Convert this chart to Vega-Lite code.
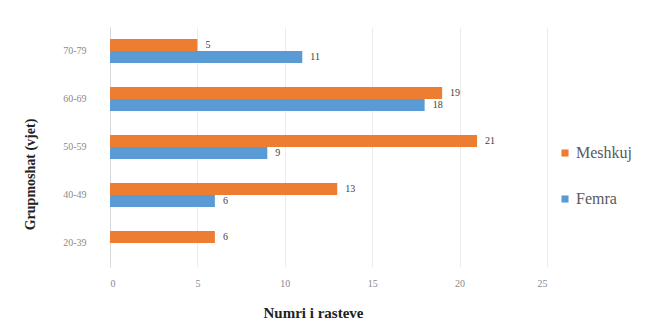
{
  "$schema": "https://vega.github.io/schema/vega-lite/v6.json",
  "width": 437,
  "height": 240,
  "autosize": {"type": "none"},
  "padding": {"left": 110, "top": 27, "right": 99, "bottom": 67},
  "background": "white",
  "data": {
    "values": [
      {"grupi": "70-79", "gjinia": "Meshkuj", "raste": 5},
      {"grupi": "70-79", "gjinia": "Femra", "raste": 11},
      {"grupi": "60-69", "gjinia": "Meshkuj", "raste": 19},
      {"grupi": "60-69", "gjinia": "Femra", "raste": 18},
      {"grupi": "50-59", "gjinia": "Meshkuj", "raste": 21},
      {"grupi": "50-59", "gjinia": "Femra", "raste": 9},
      {"grupi": "40-49", "gjinia": "Meshkuj", "raste": 13},
      {"grupi": "40-49", "gjinia": "Femra", "raste": 6},
      {"grupi": "20-39", "gjinia": "Meshkuj", "raste": 6}
    ]
  },
  "encoding": {
    "y": {
      "field": "grupi",
      "type": "nominal",
      "sort": ["70-79", "60-69", "50-59", "40-49", "20-39"],
      "scale": {"paddingInner": 0.5, "paddingOuter": 0.25},
      "axis": {
        "title": "Grupmoshat (vjet)",
        "titleFontSize": 14,
        "titleFontWeight": "bold",
        "titleColor": "#222222",
        "titleAngle": -90,
        "titleX": -80,
        "titleY": 147,
        "titleAlign": "center",
        "titleBaseline": "middle",
        "labelFontSize": 10,
        "labelColor": "#8a8a8a",
        "labelPadding": 24,
        "ticks": false,
        "domain": true,
        "domainColor": "#d9d9d9",
        "grid": false
      }
    },
    "yOffset": {
      "field": "gjinia",
      "type": "nominal",
      "sort": ["Meshkuj", "Femra"],
      "scale": {"paddingInner": 0, "paddingOuter": 0}
    },
    "x": {
      "field": "raste",
      "type": "quantitative",
      "scale": {"domain": [0, 25]},
      "axis": {
        "title": "Numri i rasteve",
        "titleFontSize": 15,
        "titleFontWeight": "bold",
        "titleColor": "#222222",
        "titleX": 203,
        "titleY": 45,
        "titleAlign": "center",
        "titleBaseline": "middle",
        "values": [0, 5, 10, 15, 20, 25],
        "labelFontSize": 10,
        "labelColor": "#8a8a8a",
        "labelPadding": 11,
        "ticks": false,
        "domain": false,
        "grid": true,
        "gridColor": "#ececec"
      }
    }
  },
  "layer": [
    {
      "mark": {"type": "bar"},
      "encoding": {
        "color": {
          "field": "gjinia",
          "type": "nominal",
          "sort": ["Meshkuj", "Femra"],
          "scale": {"domain": ["Meshkuj", "Femra"], "range": ["#ED7D31", "#5B9BD5"]},
          "legend": {
            "title": null,
            "orient": "none",
            "legendX": 447,
            "legendY": 118,
            "symbolType": "square",
            "symbolSize": 50,
            "symbolStrokeWidth": 0,
            "labelFontSize": 16,
            "labelColor": "#595959",
            "rowPadding": 30,
            "labelOffset": 3
          }
        }
      }
    },
    {
      "mark": {
        "type": "text",
        "align": "left",
        "baseline": "middle",
        "dx": 8,
        "fontSize": 10,
        "color": "#404040"
      },
      "encoding": {"text": {"field": "raste", "type": "quantitative"}}
    }
  ],
  "config": {
    "view": {"stroke": null},
    "font": "Liberation Serif",
    "axis": {"labelFont": "Liberation Serif", "titleFont": "Liberation Serif"},
    "legend": {"labelFont": "Liberation Serif"},
    "text": {"font": "Liberation Serif"}
  }
}
